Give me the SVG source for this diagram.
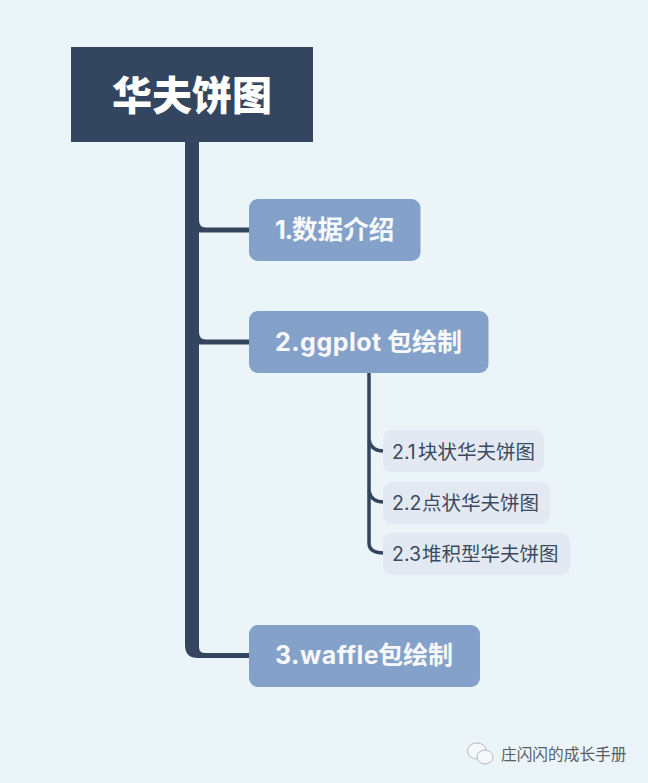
<svg xmlns="http://www.w3.org/2000/svg" width="648" height="783" viewBox="0 0 648 783">
<style>
.t{font-family:"Inter","Noto Sans CJK SC",sans-serif}
.main{fill:#84a1c9}
.sub{fill:#e3e9f2}
.mt{font-size:25px;font-weight:700;fill:#f7f9fc}
.st{font-size:19.5px;fill:#3b4a60}
.f{fill:#34465f}
.c{fill:none;stroke:#34465f;stroke-width:3.500}
.l{letter-spacing:.5px}
</style>
<rect width="648" height="783" fill="#ebf4f8"/>
<g id="connectors">
<path class="f" d="M185 140V645Q185 658 198 658H250V653H205Q199 653 199 647V140Z"/>
<path class="f" d="M198 220H199Q199 227.500 206 227.500H250V232.500H198Z"/>
<path class="f" d="M198 332H199Q199 339.500 206 339.500H250V344.500H198Z"/>
<path class="c" d="M369 372V543Q369 553 384 553"/>
<path class="c" d="M369 440Q371 451 384 451"/>
<path class="c" d="M369 491Q371 502 384 502"/>
</g>
<g id="root">
<rect x="71" y="47" width="242" height="95" fill="#34465f"/>
<text class="t" x="192" y="110" font-size="40" font-weight="900" fill="#fff" text-anchor="middle">华夫饼图</text>
</g>
<g id="node-1">
<rect class="main" x="249" y="199" width="171.500" height="62" rx="9"/>
<text class="t mt" x="275" y="239"><tspan style="letter-spacing:-1px">1.</tspan><tspan x="292" style="font-size:25.600px">数据介绍</tspan></text>
</g>
<g id="node-2">
<rect class="main" x="249" y="311" width="239.500" height="62" rx="9"/>
<text class="t mt" x="275" y="351"><tspan class="l">2.ggplot </tspan><tspan x="387">包绘制</tspan></text>
</g>
<g id="node-2-1">
<rect class="sub" x="383" y="430" width="161" height="42" rx="9"/>
<text class="t st" x="392" y="459">2.1<tspan x="418">块状华夫饼图</tspan></text>
</g>
<g id="node-2-2">
<rect class="sub" x="383" y="482" width="167" height="42" rx="9"/>
<text class="t st" x="392" y="510">2.2<tspan x="422">点状华夫饼图</tspan></text>
</g>
<g id="node-2-3">
<rect class="sub" x="383" y="533" width="187" height="42" rx="9"/>
<text class="t st" x="392" y="561">2.3<tspan x="422">堆积型华夫饼图</tspan></text>
</g>
<g id="node-3">
<rect class="main" x="249" y="625" width="231" height="62" rx="9"/>
<text class="t mt" x="275" y="664"><tspan class="l">3.waffle</tspan><tspan x="378">包绘制</tspan></text>
</g>
<g id="watermark">
<ellipse cx="477" cy="751" rx="9.500" ry="8" fill="#f6f9fb" stroke="#b5babd" stroke-width="1"/>
<ellipse cx="485" cy="757" rx="8" ry="7" fill="#f6f9fb" stroke="#b5babd" stroke-width="1"/>
<text class="t" x="501" y="760" font-size="15.700" fill="#5a5e62">庄闪闪的成长手册</text>
</g>
</svg>
